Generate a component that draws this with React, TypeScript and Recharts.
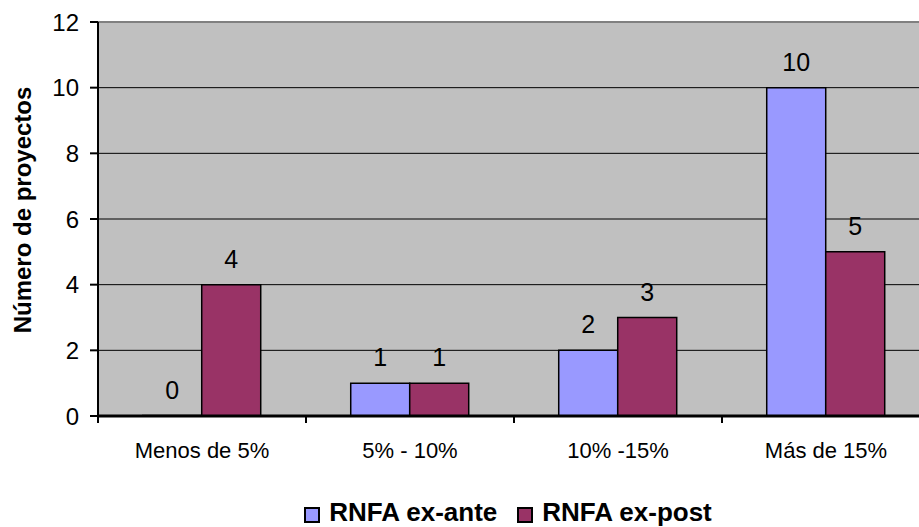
import React from "react";
import {
  Bar,
  BarChart,
  CartesianGrid,
  LabelList,
  ReferenceLine,
  XAxis,
  YAxis,
} from "recharts";

// Rangos de RNFA y número de proyectos en cada uno
const categories = ["Menos de 5%", "5% - 10%", "10% -15%", "Más de 15%"];
const exAnte = [0, 1, 2, 10];
const exPost = [4, 1, 3, 5];
const seriesNames = ["RNFA ex-ante", "RNFA ex-post"];
const yTicks = [0, 2, 4, 6, 8, 10, 12];

const COLORS = ["#9999FF", "#993366"];
const FONT = "'Liberation Sans', Arial, Helvetica, sans-serif";
const LABEL_GAP = 26;

const data = categories.map((name, i) => ({
  name,
  exAnte: exAnte[i],
  exPost: exPost[i],
}));

// category label plus the small separator ticks at the band edges
function CategoryTick(props: any) {
  const { x, y, payload, index, visibleTicksCount } = props;
  const half = payload.offset ?? 0;
  const axisY = y - LABEL_GAP;
  return (
    <g>
      <line x1={x - half} x2={x - half} y1={axisY} y2={axisY + 7} stroke="#000" strokeWidth={2} />
      {index === visibleTicksCount - 1 && (
        <line x1={x + half} x2={x + half} y1={axisY} y2={axisY + 7} stroke="#000" strokeWidth={2} />
      )}
      <text x={x} y={y} dy="0.71em" textAnchor="middle" fontFamily={FONT} fontSize={22} fill="#000">
        {payload.value}
      </text>
    </g>
  );
}

export default function App() {
  return (
    <div
      style={{
        position: "fixed",
        left: 0,
        top: 0,
        width: 919,
        height: 527,
        overflow: "hidden",
        background: "#fff",
        fontFamily: FONT,
      }}
    >
      <BarChart
        width={940}
        height={527}
        data={data}
        margin={{ top: 22, right: 10, left: 0, bottom: 0 }}
        barGap={0}
        barCategoryGap="21.5%"
      >
        <CartesianGrid vertical={false} stroke="#000" fill="#C0C0C0" fillOpacity={1} />
        <XAxis
          dataKey="name"
          height={111}
          tickSize={0}
          tickMargin={LABEL_GAP}
          axisLine={false}
          tickLine={false}
          interval={0}
          tick={<CategoryTick />}
        />
        <YAxis
          width={98}
          domain={[0, 12]}
          ticks={yTicks}
          tickSize={8}
          tickMargin={11}
          axisLine={{ stroke: "#000", strokeWidth: 2 }}
          tickLine={{ stroke: "#000", strokeWidth: 2 }}
          tick={{ fontSize: 24, fill: "#000", fontFamily: FONT }}
          label={{
            content: ({ viewBox }: any) => {
              const cy = viewBox.y + viewBox.height / 2 - 9;
              return (
                <text
                  x={22}
                  y={cy}
                  transform={`rotate(-90, 22, ${cy})`}
                  textAnchor="middle"
                  dominantBaseline="central"
                  fontFamily={FONT}
                  fontWeight="bold"
                  fontSize={24}
                  fill="#000"
                >
                  Número de proyectos
                </text>
              );
            },
          }}
        />
        <ReferenceLine y={12} stroke="#808080" strokeWidth={2} />
        <Bar
          dataKey="exAnte"
          name={seriesNames[0]}
          fill={COLORS[0]}
          stroke="#000"
          strokeWidth={1.5}
          minPointSize={0.5}
          isAnimationActive={false}
        >
          <LabelList dataKey="exAnte" position="top" offset={17} fill="#000" fontSize={25} fontFamily={FONT} />
        </Bar>
        <Bar
          dataKey="exPost"
          name={seriesNames[1]}
          fill={COLORS[1]}
          stroke="#000"
          strokeWidth={1.5}
          minPointSize={0.5}
          isAnimationActive={false}
        >
          <LabelList dataKey="exPost" position="top" offset={17} fill="#000" fontSize={25} fontFamily={FONT} />
        </Bar>
        <ReferenceLine y={0} stroke="#000" strokeWidth={3} />
      </BarChart>
      <div
        style={{
          position: "absolute",
          left: 86,
          width: 844,
          top: 497,
          display: "flex",
          justifyContent: "center",
          alignItems: "center",
          gap: 20,
          fontFamily: FONT,
          fontWeight: "bold",
          fontSize: 26,
          color: "#000",
        }}
      >
        {seriesNames.map((s, i) => (
          <div key={s} style={{ display: "flex", alignItems: "center", gap: 9 }}>
            <span
              style={{
                display: "inline-block",
                width: 12,
                height: 12,
                marginTop: 5,
                background: COLORS[i],
                border: "2px solid #000",
              }}
            />
            <span>{s}</span>
          </div>
        ))}
      </div>
    </div>
  );
}
